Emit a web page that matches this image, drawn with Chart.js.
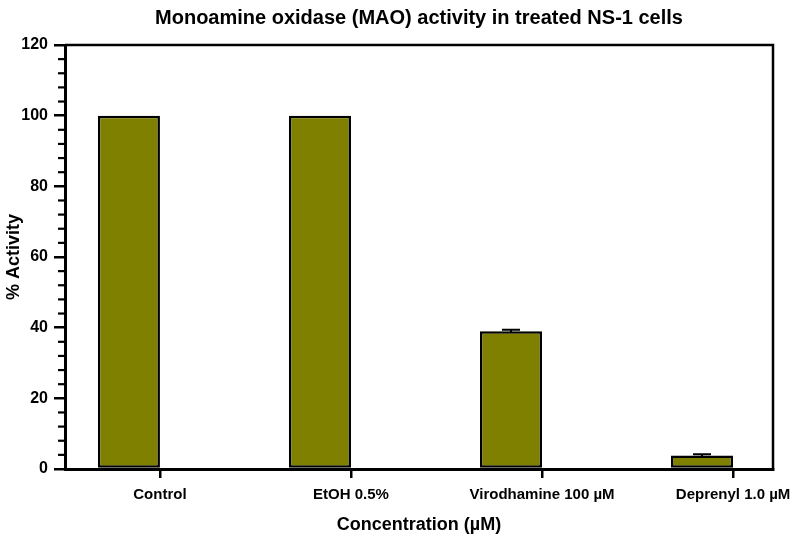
<!DOCTYPE html>
<html>
<head>
<meta charset="utf-8">
<script src="https://cdn.jsdelivr.net/npm/chart.js@4/dist/chart.umd.min.js"></script>
<style>
  html, body { margin: 0; padding: 0; background: #fff; }
  #wrap { width: 800px; height: 541px; }
</style>
</head>
<body>
<div id="wrap"><canvas id="maoChart"></canvas></div>
<script>
const categories = ["Control", "EtOH 0.5%", "Virodhamine 100 µM", "Deprenyl 1.0 µM"];
const activity = [100, 100, 39, 3.8];
const activityErr = [0, 0, 0.4, 0.4];
const yTicks = [0, 20, 40, 60, 80, 100, 120];

const FONT = "'Liberation Sans', Arial, Helvetica, sans-serif";
const ctx = document.getElementById("maoChart").getContext("2d");

// barras de error + ticks menores + marco superior/derecho
const extras = {
  id: "extras",
  afterDatasetsDraw(chart) {
    const c = chart.ctx;
    const y = chart.scales.y;
    const meta = chart.getDatasetMeta(0);
    c.save();
    c.strokeStyle = "#000";
    c.lineWidth = 2;
    meta.data.forEach((bar, i) => {
      const e = activityErr[i];
      if (!e) return;
      const top = y.getPixelForValue(activity[i] + e);
      const bot = y.getPixelForValue(activity[i] - e);
      c.beginPath();
      c.moveTo(bar.x, top);
      c.lineTo(bar.x, bot);
      c.moveTo(bar.x - 9, top);
      c.lineTo(bar.x + 9, top);
      c.stroke();
    });
    c.restore();
  },
  afterDraw(chart) {
    const c = chart.ctx;
    const a = chart.chartArea;
    const y = chart.scales.y;
    c.save();
    c.strokeStyle = "#000";
    c.lineWidth = 2.5;
    c.beginPath();
    c.moveTo(a.left, a.top);
    c.lineTo(a.right, a.top);
    c.lineTo(a.right, a.bottom);
    c.stroke();
    c.lineWidth = 2.2;
    for (let v = 0; v <= 120; v += 4) {
      if (v % 20 === 0) continue;
      const py = y.getPixelForValue(v);
      c.beginPath();
      c.moveTo(a.left - 7, py);
      c.lineTo(a.left, py);
      c.stroke();
    }
    c.restore();
  }
};

new Chart(ctx, {
  type: "bar",
  data: {
    datasets: [
      {
        label: "% Activity",
        data: activity.map((v, i) => ({ x: i + 1, y: v })),
        backgroundColor: "#808000",
        borderColor: "#000",
        borderWidth: 2.5,
        borderSkipped: false,
        categoryPercentage: 0.65,
        barPercentage: 1
      },
      {
        label: "",
        data: activity.map((v, i) => ({ x: i + 1, y: null })),
        categoryPercentage: 0.65,
        barPercentage: 1
      }
    ]
  },
  options: {
    responsive: true,
    maintainAspectRatio: false,
    animation: false,
    layout: { padding: { left: 0, right: 27, top: 0, bottom: 0 } },
    scales: {
      x: {
        type: "linear",
        offset: false,
        min: 0.503,
        max: 4.209,
        afterBuildTicks: s => { s.ticks = categories.map((c, i) => ({ value: i + 1 })); },
        afterFit: s => { s.height = 72; },
        ticks: {
          callback: (v, i) => categories[i],
          color: "#000",
          font: { family: FONT, size: 15, weight: "bold" },
          padding: 8,
          maxRotation: 0,
          autoSkip: false
        },
        grid: { offset: false, drawOnChartArea: false, color: "#000", lineWidth: 2.5, tickLength: 9 },
        border: { color: "#000", width: 3 },
        title: {
          display: true,
          text: "Concentration (µM)",
          color: "#000",
          font: { family: FONT, size: 18, weight: "bold" },
          padding: { top: 0, bottom: 5 }
        }
      },
      y: {
        min: 0,
        max: 120,
        afterBuildTicks: s => { s.ticks = yTicks.map(v => ({ value: v })); },
        afterFit: s => { s.width = 65; },
        ticks: {
          color: "#000",
          font: { family: FONT, size: 16, weight: "bold" },
          padding: 6
        },
        grid: { drawOnChartArea: false, color: "#000", lineWidth: 2.5, tickLength: 11 },
        border: { color: "#000", width: 3 },
        title: {
          display: true,
          text: "% Activity",
          color: "#000",
          font: { family: FONT, size: 18, weight: "bold" },
          padding: { top: 3, bottom: 0 }
        }
      }
    },
    plugins: {
      legend: { display: false },
      tooltip: { enabled: false },
      title: {
        display: true,
        fullSize: false,
        text: "Monoamine oxidase (MAO) activity in treated NS-1 cells",
        color: "#000",
        font: { family: FONT, size: 20, weight: "bold" },
        padding: { top: 6, bottom: 15 }
      }
    }
  },
  plugins: [extras]
});
</script>
</body>
</html>
